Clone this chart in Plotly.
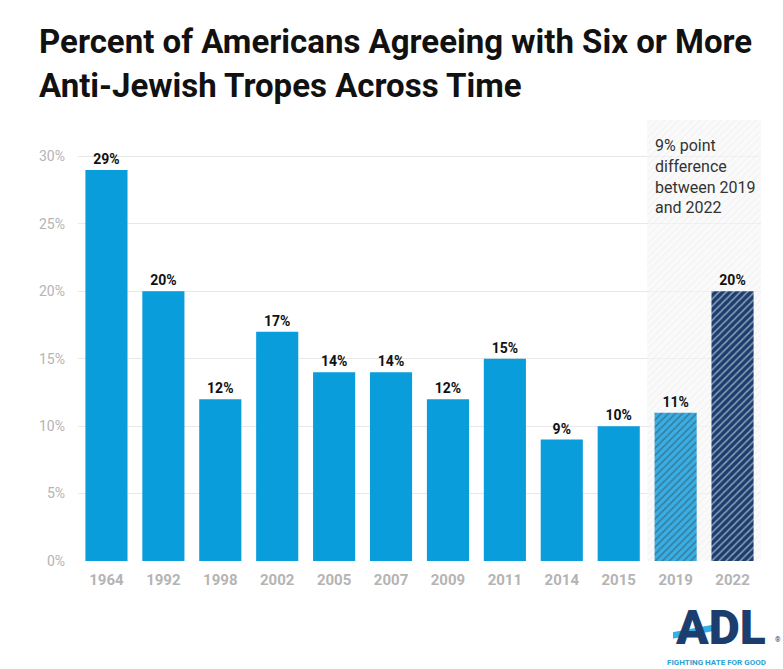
import plotly.graph_objects as go

years = ["1964", "1992", "1998", "2002", "2005", "2007", "2009", "2011", "2014", "2015", "2019", "2022"]
values = [29, 20, 12, 17, 14, 14, 12, 15, 9, 10, 11, 20]
highlight_years = ["2019", "2022"]
y_ticks = [0, 5, 10, 15, 20, 25, 30]
y_tick_labels = [f"{t}%" for t in y_ticks]

y_max = 32.7

bar_colors = ["#0a9ddb"] * 10 + ["#36aee6", "#1b3e6f"]
bar_patterns = [""] * 10 + ["/", "/"]
pattern_fg = ["#0a9ddb"] * 10 + ["#55bbea", "#284a7a"]

fig = go.Figure()

# hatched background behind the last two years
fig.add_trace(go.Bar(
    x=highlight_years, y=[y_max] * len(highlight_years), width=1,
    marker=dict(color="rgba(245,245,245,0.6)", line_width=0,
                pattern=dict(shape="/", fgcolor="rgba(222,222,222,0.6)",
                             bgcolor="rgba(247,247,247,0.6)", size=5, solidity=0.2)),
    hoverinfo="skip", showlegend=False,
))

fig.add_trace(go.Bar(
    x=years, y=values, width=0.74,
    marker=dict(color=bar_colors, line_width=0,
                pattern=dict(shape=bar_patterns, fgcolor=pattern_fg, size=5, solidity=0.3)),
    text=[f"<b>{v}%</b>" for v in values], textposition="outside",
    textfont=dict(family="Roboto", size=14, color="#111"),
    cliponaxis=False, showlegend=False,
))

fig.update_layout(
    width=783, height=669,
    barmode="overlay",
    paper_bgcolor="white", plot_bgcolor="white",
    margin=dict(l=78, r=22, t=120, b=108),
    font=dict(family="Roboto"),
    xaxis=dict(type="category", categoryorder="array", categoryarray=years,
               tickfont=dict(size=15, color="#b4b4b4", weight="bold"),
               showgrid=False, showline=False, ticks="", ticklabelstandoff=8,
               automargin=False),
    yaxis=dict(range=[0, y_max], tickvals=y_ticks, ticktext=y_tick_labels,
               tickfont=dict(size=14, color="#b4b4b4"),
               showgrid=True, gridcolor="#e8e8e8", gridwidth=1,
               zeroline=False, ticks="", ticklabelstandoff=12, automargin=False),
    annotations=[
        dict(text="<b>Percent of Americans Agreeing with Six or More</b>",
             xref="paper", yref="paper", x=-0.060, y=1.177, xanchor="left", yanchor="middle",
             showarrow=False, font=dict(family="Roboto", size=33, color="#111")),
        dict(text="<b>Anti-Jewish Tropes Across Time</b>",
             xref="paper", yref="paper", x=-0.060, y=1.079, xanchor="left", yanchor="middle",
             showarrow=False, font=dict(family="Roboto", size=33, color="#111")),
        dict(text="9% point<br>difference<br>between 2019<br>and 2022",
             xref="paper", yref="paper", x=0.842, y=0.968, xanchor="left", yanchor="top",
             align="left", showarrow=False,
             font=dict(family="Roboto", size=16, color="#333")),
        dict(text="ADL", xref="paper", yref="paper", x=1.010, y=-0.149,
             xanchor="right", yanchor="middle", showarrow=False, height=40,
             font=dict(family="Roboto", size=48, color="#1b3e6f", weight=900)),
        dict(text="®", xref="paper", yref="paper", x=1.018, y=-0.18,
             xanchor="left", yanchor="middle", showarrow=False,
             font=dict(family="Roboto", size=7, color="#1b3e6f")),
        dict(text="<b>FIGHTING HATE FOR GOOD</b>", xref="paper", yref="paper", x=1.010, y=-0.230,
             xanchor="right", yanchor="middle", showarrow=False, height=10,
             font=dict(family="Roboto", size=8, color="#2a9fd6")),
    ],
    shapes=[
        dict(type="path", xref="paper", yref="paper",
             path="M 0.870 -0.178 L 0.870 -0.160 L 0.935 -0.141 L 0.935 -0.159 Z",
             fillcolor="#36aee6", line=dict(color="white", width=1.5), layer="above"),
    ],
)

fig.write_html("out.html", config={"displayModeBar": False},
               post_script="document.body.style.margin='0';")
